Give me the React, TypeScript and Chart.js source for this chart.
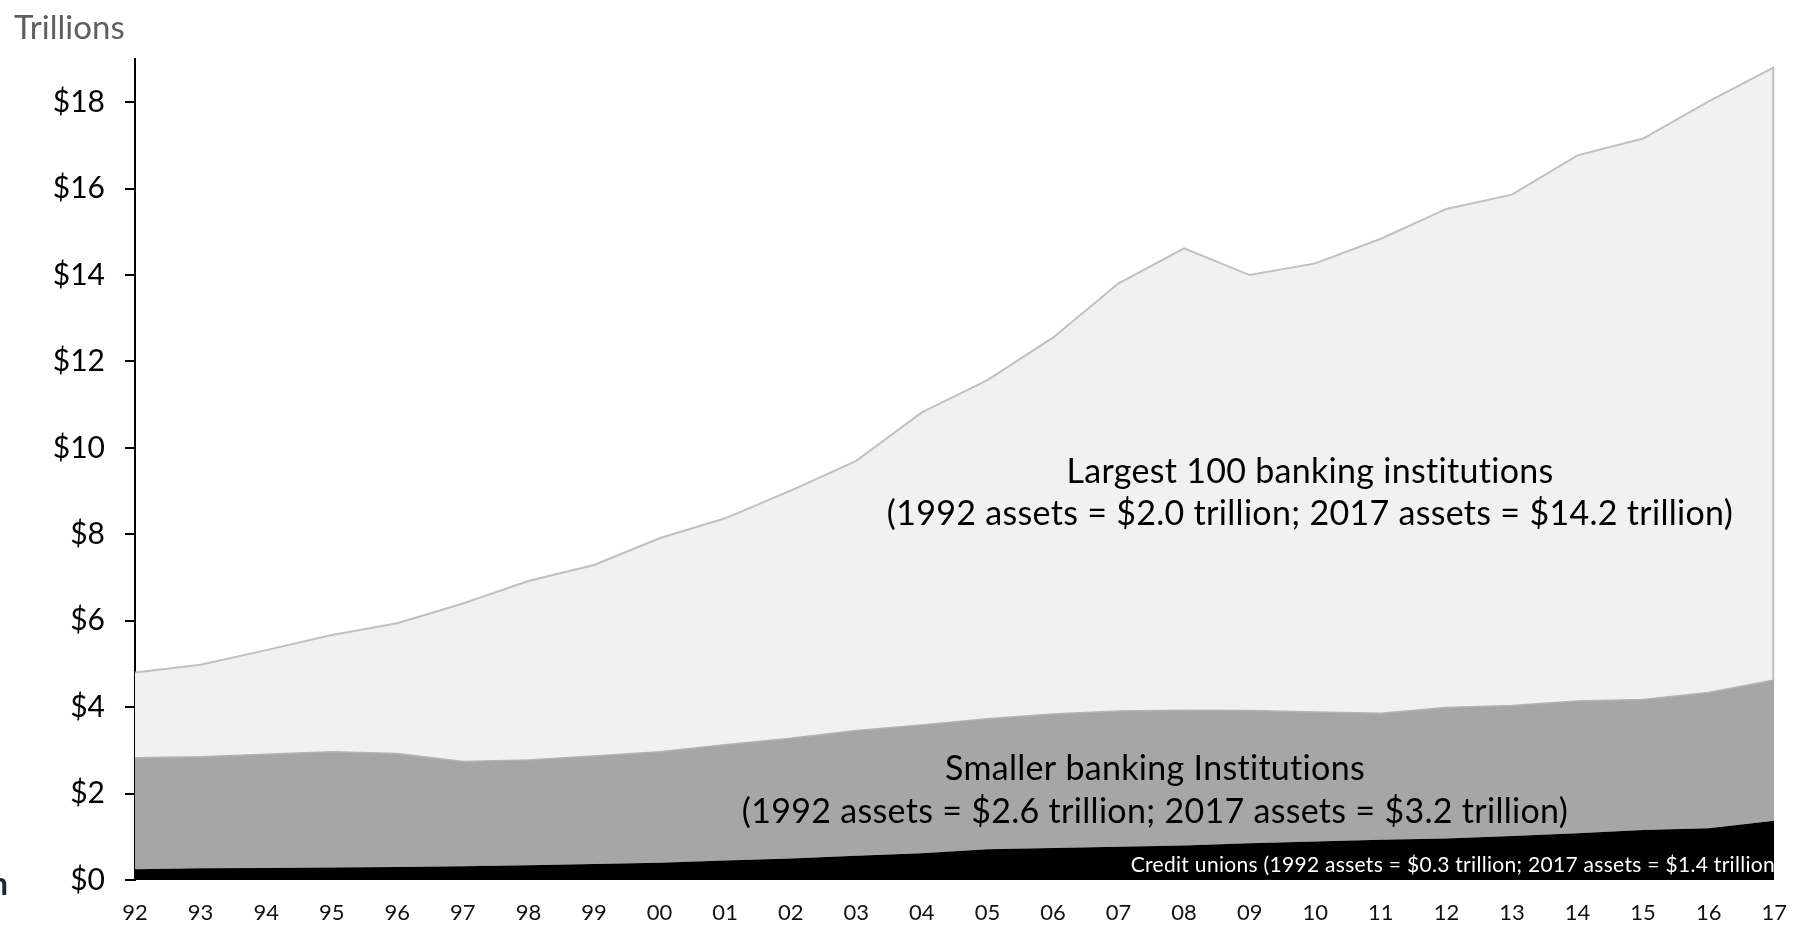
import React, { useEffect, useRef } from 'react';
import { Chart, registerables } from 'chart.js';

Chart.register(...registerables);

const years = ['92', '93', '94', '95', '96', '97', '98', '99', '00', '01', '02', '03', '04', '05', '06', '07', '08', '09', '10', '11', '12', '13', '14', '15', '16', '17'];

// Trillions of dollars (stacked)
const creditUnions = [0.25, 0.27, 0.28, 0.29, 0.30, 0.32, 0.34, 0.37, 0.40, 0.45, 0.50, 0.56, 0.62, 0.71, 0.74, 0.77, 0.80, 0.85, 0.89, 0.93, 0.96, 1.02, 1.08, 1.16, 1.20, 1.37];
const smallerBanks = [2.58, 2.58, 2.63, 2.68, 2.63, 2.42, 2.44, 2.50, 2.57, 2.68, 2.78, 2.90, 2.97, 3.02, 3.10, 3.14, 3.13, 3.07, 3.00, 2.93, 3.03, 3.02, 3.06, 3.02, 3.14, 3.26];
const largest100 = [1.97, 2.13, 2.41, 2.70, 3.01, 3.66, 4.14, 4.42, 4.94, 5.24, 5.73, 6.24, 7.23, 7.84, 8.71, 9.90, 10.69, 10.08, 10.38, 10.98, 11.54, 11.82, 12.63, 12.98, 13.68, 14.18];

const yTickValues = [0, 2, 4, 6, 8, 10, 12, 14, 16, 18];
const yMax = 19;

const axisTitle = 'Trillions';
const largestLabel = ['Largest 100 banking institutions', '(1992 assets = $2.0 trillion; 2017 assets = $14.2 trillion)'];
const smallerLabel = ['Smaller banking Institutions', '(1992 assets = $2.6 trillion; 2017 assets = $3.2 trillion)'];
const creditLabel = 'Credit unions (1992 assets = $0.3 trillion; 2017 assets = $1.4 trillion';

const FONT = 'Lato, "Open Sans", "DejaVu Sans", sans-serif';

export default function App() {
  const ref = useRef<HTMLCanvasElement>(null);

  useEffect(() => {
    if (!ref.current) return;

    const annotations = {
      id: 'annotations',
      afterDatasetsDraw(chart: any) {
        const ctx = chart.ctx as any;
        const xs = chart.scales.x;
        const ys = chart.scales.y;
        ctx.save();
        // right edge of the largest-institutions area
        const last = years.length - 1;
        const xr = xs.getPixelForValue(last);
        const topV = creditUnions[last] + smallerBanks[last] + largest100[last];
        const midV = creditUnions[last] + smallerBanks[last];
        ctx.strokeStyle = '#c0c0c0';
        ctx.lineWidth = 2;
        ctx.beginPath();
        ctx.moveTo(xr - 1, ys.getPixelForValue(topV));
        ctx.lineTo(xr - 1, ys.getPixelForValue(midV));
        ctx.stroke();

        ctx.textAlign = 'center';
        ctx.textBaseline = 'middle';
        ctx.fillStyle = '#000';
        ctx.letterSpacing = '0.3px';
        ctx.font = `34px ${FONT}`;
        ctx.fillText(largestLabel[0], 1310, 472);
        ctx.fillText(largestLabel[1], 1310, 514);
        ctx.fillText(smallerLabel[0], 1155, 769);
        ctx.fillText(smallerLabel[1], 1155, 812);

        ctx.textAlign = 'right';
        ctx.fillStyle = '#fff';
        ctx.font = `21px ${FONT}`;
        ctx.fillText(creditLabel, 1775, 865);

        ctx.letterSpacing = '0px';
        ctx.textAlign = 'left';
        ctx.fillStyle = '#5f5f5f';
        ctx.font = `33px ${FONT}`;
        ctx.fillText(axisTitle, 14, 28);

        ctx.textAlign = 'right';
        ctx.fillStyle = '#1b2838';
        ctx.font = `bold 32px ${FONT}`;
        ctx.textBaseline = 'alphabetic';
        ctx.fillText('n', 8, 895);
        ctx.restore();
      },
    };

    const chart = new Chart(ref.current, {
      type: 'line',
      data: {
        labels: years,
        datasets: [
          {
            label: 'Credit unions',
            data: creditUnions,
            fill: 'origin',
            backgroundColor: '#000000',
            borderColor: '#000000',
            borderWidth: 0,
            pointRadius: 0,
            tension: 0,
          },
          {
            label: 'Smaller banking institutions',
            data: smallerBanks,
            fill: '-1',
            backgroundColor: '#a6a6a6',
            borderColor: '#b3b3b3',
            borderWidth: 1.5,
            pointRadius: 0,
            tension: 0,
          },
          {
            label: 'Largest 100 banking institutions',
            data: largest100,
            fill: '-1',
            backgroundColor: '#f1f1f1',
            borderColor: '#c0c0c0',
            borderWidth: 2,
            pointRadius: 0,
            tension: 0,
          },
        ],
      },
      options: {
        animation: false,
        responsive: false,
        maintainAspectRatio: false,
        layout: { padding: { top: 59, right: 18, left: 0, bottom: 0 } },
        plugins: {
          legend: { display: false },
          tooltip: { enabled: false },
        },
        scales: {
          x: {
            offset: false,
            grid: { display: false, drawTicks: false },
            border: { display: false },
            ticks: {
              font: { family: FONT, size: 22 },
              color: '#111',
              padding: 20,
              maxRotation: 0,
              autoSkip: false,
            },
            afterFit: (s: any) => {
              s.height = 45;
            },
          },
          y: {
            stacked: true,
            min: 0,
            max: yMax,
            afterBuildTicks: (s: any) => {
              s.ticks = yTickValues.map((v) => ({ value: v }));
            },
            ticks: {
              font: { family: FONT, size: 30 },
              color: '#000',
              padding: 20,
              callback: (v: any) => '$' + v,
            },
            grid: {
              drawOnChartArea: false,
              drawTicks: true,
              tickLength: 10,
              color: '#000',
              lineWidth: 2,
            },
            border: { display: true, color: '#000', width: 2 },
            afterFit: (s: any) => {
              s.width = 135;
            },
          },
        },
      },
      plugins: [annotations],
    });

    return () => chart.destroy();
  }, []);

  return (
    <div style={{ position: 'fixed', left: 0, top: 0, width: 1807, height: 925, background: '#fff' }}>
      <canvas ref={ref} width={1807} height={925} style={{ width: 1807, height: 925, display: 'block' }} />
    </div>
  );
}
